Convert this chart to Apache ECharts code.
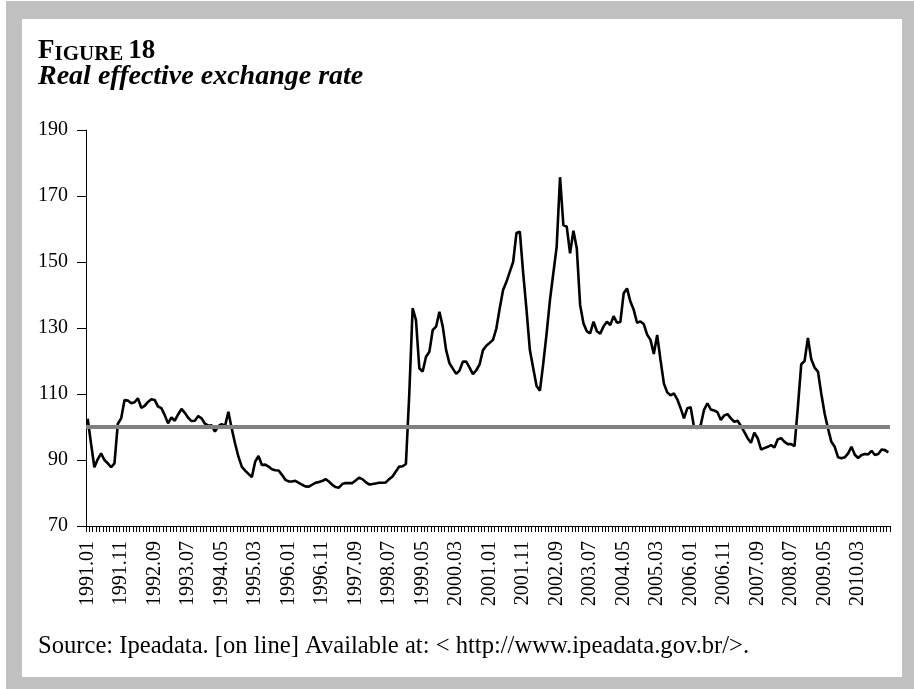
<!DOCTYPE html>
<html><head><meta charset="utf-8">
<script src="https://cdn.jsdelivr.net/npm/echarts@6/dist/echarts.min.js"></script>
<style>
html,body{margin:0;padding:0;background:#fff;width:914px;height:689px;overflow:hidden}
#frame{position:absolute;left:6px;top:1px;width:908px;height:688px;background:#c0c0c0}
#panel{position:absolute;left:22px;top:19px;width:880px;height:658px;background:#fff}
#chart{position:absolute;left:0;top:0;width:914px;height:689px}
</style></head><body>
<div id="frame"></div><div id="panel"></div><div id="chart"></div>
<script>
// ---- data (monthly, 1991.01 - 2010.12) ----
const startYear = 1991;
const endYear = 2010;
const rate1991_1995 = [
  102.5, 95, 87.8, 90.2, 92, 90, 89, 87.8, 89, 101, 102.6, 108.2,
  108, 107.2, 107.5, 108.7, 105.8, 106.4, 107.6, 108.4, 108.2, 106.2, 105.7, 103.6,
  101.1, 102.9, 101.9, 103.8, 105.5, 104.3, 102.8, 101.8, 101.9, 103.3, 102.6, 101,
  100.4, 100.5, 98.6, 100.3, 100.9, 100.3, 104.6, 99.5, 95, 91, 88, 86.8,
  85.8, 84.8, 89.5, 91.2, 88.5, 88.6, 88, 87.2, 86.9, 86.8, 85.5, 84
];
const rate1996_2000 = [
  83.5, 83.5, 83.7, 83.1, 82.5, 82, 81.9, 82.5, 83.1, 83.3, 83.6, 84.2,
  83.5, 82.5, 81.8, 81.6, 82.7, 83, 83, 83, 83.8, 84.6, 84.2, 83.3,
  82.6, 82.7, 82.9, 83.1, 83.1, 83.2, 84.2, 85, 86.5, 88, 88.1, 88.8,
  110, 136, 132.4, 117.8, 116.8, 121.3, 122.8, 129.4, 130.4, 134.9, 130.4, 123.3,
  119.3, 117.7, 116.1, 117.1, 119.8, 119.8, 118, 116, 117.2, 119, 123.3, 124.6
];
const rate2001_2005 = [
  125.5, 126.4, 129.9, 136, 141.5, 144, 147, 150, 158.8, 159.2, 146.6, 135.5,
  123.3, 117.8, 112.4, 111, 119.3, 128.4, 138.5, 146.6, 154.6, 175.7, 161.2, 160.7,
  152.6, 159.5, 154.2, 137, 131.4, 129, 128.4, 131.9, 129, 128.3, 130.5, 131.9,
  130.9, 133.6, 131.6, 131.8, 140.5, 142, 138, 135.5, 131.6, 132, 131.2, 128,
  126.4, 122.1, 127.9, 120.3, 113.2, 110.5, 109.6, 110.2, 108.4, 105.7, 102.6, 105.7
];
const rate2006_2010 = [
  106, 100, 99.7, 100.6, 105.2, 107.2, 105.3, 105, 104.5, 102.1, 103.5, 103.9,
  102.6, 101.6, 101.9, 100.3, 98.5, 96.6, 95.2, 98.3, 96.6, 93.2, 93.6, 94,
  94.5, 93.8, 96.3, 96.6, 95.5, 94.8, 94.8, 94.2, 106, 119, 120, 127,
  120.5, 118, 116.8, 110, 104, 99.5, 95.5, 94, 90.8, 90.5, 90.8, 92,
  94, 91.6, 90.6, 91.5, 91.8, 91.7, 92.8, 91.5, 91.8, 93.2, 93, 92.3
];
const benchmark = 100;
const yMin = 70, yMax = 190, yStep = 20;
const titleText = 'Real effective exchange rate';
const sourceText = 'Source: Ipeadata. [on line] Available at: < http://www.ipeadata.gov.br/>.';

const months = [];
for (let y = startYear; y <= endYear; y++) {
  for (let m = 1; m <= 12; m++) months.push(y + '.' + (m < 10 ? '0' + m : m));
}
const rate = rate1991_1995.concat(rate1996_2000, rate2001_2005, rate2006_2010);

const FONT = '"Liberation Serif", "Times New Roman", serif';
const chart = echarts.init(document.getElementById('chart'), null, {renderer: 'canvas'});
chart.setOption({
  backgroundColor: 'transparent',
  animation: false,
  title: {
    text: '{a|F}{b|IGURE} {c|18}',
    left: 38, top: 35, padding: 0,
    textStyle: {
      rich: {
        a: {fontFamily: FONT, fontSize: 27, color: '#000', lineHeight: 30, verticalAlign: 'bottom'},
        b: {fontFamily: FONT, fontSize: 21, color: '#000', lineHeight: 26, verticalAlign: 'bottom'},
        c: {fontFamily: FONT, fontSize: 27, fontWeight: 'bold', color: '#000', lineHeight: 30, verticalAlign: 'bottom'}
      }
    }
  },
  graphic: [
    {type: 'text', x: 38, y: 77, silent: true,
     style: {text: titleText, font: 'italic bold 28px ' + FONT, fill: '#000', align: 'left', verticalAlign: 'middle'}},
    {type: 'text', x: 38, y: 647, silent: true,
     style: {text: sourceText, font: '24.6px ' + FONT, fill: '#000', align: 'left', verticalAlign: 'middle'}}
  ],
  grid: {left: 86, top: 130, width: 804, height: 396, containLabel: false, outerBoundsMode: 'none'},
  xAxis: {
    type: 'category', data: months, boundaryGap: true,
    axisLine: {show: true, lineStyle: {color: '#000', width: 1}},
    axisTick: {show: true, interval: 0, length: 6, lineStyle: {color: '#000', width: 1}},
    axisLabel: {interval: 9, rotate: 90, margin: 15, fontFamily: FONT, fontSize: 20, color: '#000'},
    splitLine: {show: false}
  },
  yAxis: {
    type: 'value', min: yMin, max: yMax, interval: yStep,
    axisLine: {show: true, lineStyle: {color: '#000', width: 1}},
    axisTick: {show: true, length: 9, lineStyle: {color: '#000', width: 1}},
    axisLabel: {margin: 18, fontFamily: FONT, fontSize: 20, color: '#000'},
    splitLine: {show: false}
  },
  series: [
    {type: 'line', name: 'REER', data: rate, symbol: 'none', z: 2,
     lineStyle: {color: '#000', width: 2.6}},
    {type: 'line', name: 'Base', data: [], symbol: 'none', z: 3,
     markLine: {symbol: 'none', silent: true, animation: false, label: {show: false},
       lineStyle: {color: '#808080', width: 4, type: 'solid'},
       data: [{yAxis: benchmark}]}}
  ]
});
</script>
</body></html>
